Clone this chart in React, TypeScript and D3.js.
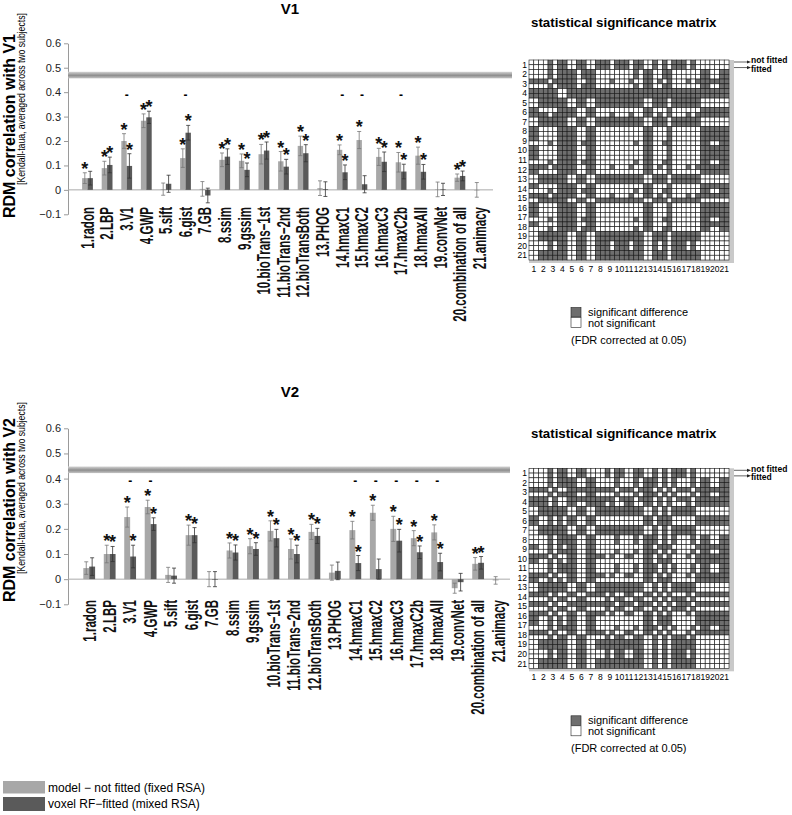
import React, { useEffect, useRef } from 'react';
import * as d3 from 'd3';

// model names (x categories)
const models = [
  "1.radon", "2.LBP", "3.V1", "4.GWP", "5.sift", "6.gist", "7.GB", "8.ssim", "9.gssim",
  "10.bioTrans\u22121st", "11.bioTrans\u22122nd", "12.bioTransBoth", "13.PHOG", "14.hmaxC1",
  "15.hmaxC2", "16.hmaxC3", "17.hmaxC2b", "18.hmaxAll", "19.convNet", "20.combination of all", "21.animacy"
];
const yTicks = [-0.1, 0, 0.1, 0.2, 0.3, 0.4, 0.5, 0.6];

// V1 panel
const v1Fixed = [0.048, 0.089, 0.200, 0.283, 0.003, 0.130, 0.004, 0.123, 0.119, 0.146, 0.117, 0.180, 0.007, 0.164, 0.204, 0.135, 0.113, 0.140, 0.002, 0.050, 0.000];
const v1Fitted = [0.048, 0.102, 0.098, 0.297, 0.025, 0.234, -0.023, 0.136, 0.082, 0.161, 0.095, 0.150, 0.003, 0.072, 0.023, 0.115, 0.075, 0.074, 0.002, 0.057, null];
const v1FixedErr = [0.022, 0.028, 0.030, 0.028, 0.025, 0.038, 0.030, 0.028, 0.028, 0.040, 0.040, 0.040, 0.030, 0.020, 0.035, 0.035, 0.040, 0.035, 0.030, 0.015, 0.030];
const v1FittedErr = [0.028, 0.032, 0.050, 0.025, 0.035, 0.030, 0.030, 0.032, 0.028, 0.035, 0.030, 0.035, 0.030, 0.030, 0.035, 0.040, 0.030, 0.030, 0.025, 0.020, 0];
const v1StarFixed = [1, 1, 1, 1, 0, 1, 0, 1, 1, 1, 1, 1, 0, 1, 1, 1, 1, 1, 0, 1, 0];
const v1StarFitted = [0, 1, 1, 1, 0, 1, 0, 1, 1, 1, 1, 1, 0, 1, 0, 1, 1, 1, 0, 1, 0];
const v1Dash = [0, 0, 1, 0, 0, 1, 0, 0, 0, 0, 0, 0, 0, 1, 1, 0, 1, 0, 0, 0, 0];
const v1Ceiling = 0.47;

// V2 panel
const v2Fixed = [0.044, 0.100, 0.247, 0.287, 0.017, 0.175, 0.000, 0.114, 0.131, 0.192, 0.120, 0.188, 0.026, 0.195, 0.264, 0.200, 0.163, 0.186, -0.036, 0.061, -0.005];
const v2Fitted = [0.050, 0.100, 0.090, 0.219, 0.014, 0.175, 0.000, 0.106, 0.120, 0.163, 0.100, 0.172, 0.033, 0.064, 0.040, 0.153, 0.107, 0.068, -0.012, 0.065, null];
const v2FixedErr = [0.025, 0.035, 0.040, 0.027, 0.030, 0.040, 0.030, 0.030, 0.030, 0.040, 0.040, 0.030, 0.030, 0.035, 0.030, 0.050, 0.030, 0.030, 0.020, 0.025, 0.015];
const v2FittedErr = [0.035, 0.030, 0.045, 0.025, 0.030, 0.030, 0.030, 0.030, 0.025, 0.035, 0.035, 0.030, 0.035, 0.030, 0.040, 0.045, 0.025, 0.035, 0.035, 0.025, 0];
const v2StarFixed = [0, 1, 1, 1, 0, 1, 0, 1, 1, 1, 1, 1, 0, 1, 1, 1, 1, 1, 0, 1, 0];
const v2StarFitted = [0, 1, 1, 1, 0, 1, 0, 1, 1, 1, 1, 1, 0, 1, 0, 1, 1, 1, 0, 1, 0];
const v2Dash = [0, 0, 1, 1, 0, 0, 0, 0, 0, 0, 0, 0, 0, 1, 1, 1, 1, 1, 0, 0, 0];
const v2Ceiling = 0.435;

// significance matrices: one hex digit per model pair (2x2 block:
// 8 = notfitted/notfitted, 4 = notfitted/fitted, 2 = fitted/notfitted, 1 = fitted/fitted)
const v1Matrix = [
  "00af0f0fafaf0aafaa000",
  "00aff5f0000af0f000f0f",
  "cc6ff1f04042f47044fcf",
  "fff0fffffffffffffffff",
  "0fff0f0fffff0fafff000",
  "f31ff0f01010f15011fff",
  "0fff0f0fffff0fafff000",
  "f00ff0f00000f05000fff",
  "c02ff1f00002f07000fcf",
  "f00ff0f00000f05000fff",
  "c02ff1f00002f07000fcf",
  "fc4ff0f04040f45044fff",
  "0fff0f0fffff0fafff000",
  "c02ff1f00002f07000fcf",
  "cf7fc3c37373c76377ccc",
  "f00ff0f00000f05000fff",
  "c02ff1f00002f07000fcf",
  "c02ff1f00002f07000fcf",
  "0fff0f0fffff0fafff000",
  "00af0f0fafaf0aafaa000",
  "0fff0f0fffff0fafff000",
];
const v2Matrix = [
  "00af0f00af0f0aafaa000",
  "00aff0f00a0afaaa0af0f",
  "cc63fcfcc6c6f666c6fcf",
  "ff50fcffd4f4f554d5fff",
  "0fff0f0fffff0aaffa000",
  "f0aaf0f00000f5f005fff",
  "0fff0f0fffff0aaffa000",
  "00aff0f00a0afaaa0af0f",
  "c0abf0f00202f6e206fcf",
  "fc62f0fc40c0f57045fff",
  "00aff0f00a0afaaa0af0f",
  "fc62f0fc40c0f57045fff",
  "0fff0f0fffff0aaffa000",
  "cc63c3cc63c3c66366ccc",
  "cc63cfcce7c7c667e6ccc",
  "fc62f0fc40c0f57045fff",
  "c0abf0f00202f6e206fcf",
  "cc63c3cc63c3c66366ccc",
  "0fff0f0fffff0aaffa000",
  "00af0f00af0f0aafaa000",
  "0fff0f0fffff0aaffa000",
];

const FONT = "'Liberation Sans', Arial, Helvetica, sans-serif";
const LIGHT = "#a8a8a8";
const DARK = "#5a5a5a";
const CELL_DARK = "#6e6e6e";

const fmtTick = (d) => (d === 0 ? "0" : d < 0 ? "\u2212" + Math.abs(d).toFixed(1) : d.toFixed(1));

const drawBars = (svg, p) => {
  const y = d3.scaleLinear().domain([-0.1, 0.6]).range([p.yBottom, p.yTop]);
  const x = d3.scalePoint().domain(models).range([p.c1, p.c21]);
  const g = svg.append("g").style("font-family", FONT);

  g.append("text")
    .attr("x", 290).attr("y", p.titleY)
    .attr("text-anchor", "middle")
    .attr("font-weight", "bold").attr("font-size", 15)
    .text(p.title);

  // y axis
  const axis = g.append("g")
    .attr("transform", "translate(68,0)")
    .call(d3.axisLeft(y).tickValues(yTicks).tickSize(4).tickSizeOuter(0).tickPadding(3).tickFormat(fmtTick));
  axis.select(".domain").attr("stroke", "#9a9a9a");
  axis.selectAll(".tick line").attr("stroke", "#9a9a9a");
  axis.selectAll("text").attr("font-size", 11).attr("fill", "#222").attr("font-family", FONT);

  // noise ceiling band
  g.append("rect")
    .attr("x", 68).attr("y", y(p.ceiling) - 3.3)
    .attr("width", p.ceilEnd - 68).attr("height", 6.6)
    .attr("fill", "url(#ceilGrad)");

  // zero line
  g.append("line")
    .attr("x1", 68).attr("x2", p.zeroEnd)
    .attr("y1", y(0)).attr("y2", y(0))
    .attr("stroke", "#aaa").attr("stroke-width", 1);

  const series = [
    { vals: p.fixed, errs: p.fixedErr, stars: p.starFixed, off: -p.barW, fill: LIGHT, errCol: "#777" },
    { vals: p.fitted, errs: p.fittedErr, stars: p.starFitted, off: 0, fill: DARK, errCol: "#333" },
  ];

  series.forEach((s) => {
    models.forEach((m, i) => {
      const v = s.vals[i];
      if (v === null || v === undefined) return;
      const bx = x(m) + s.off;
      const cx = bx + p.barW / 2;
      g.append("rect")
        .attr("x", bx).attr("width", p.barW)
        .attr("y", Math.min(y(v), y(0)))
        .attr("height", Math.max(0.6, Math.abs(y(v) - y(0))))
        .attr("fill", s.fill);
      const e = s.errs[i];
      g.append("line")
        .attr("x1", cx).attr("x2", cx)
        .attr("y1", y(v - e)).attr("y2", y(v + e))
        .attr("stroke", s.errCol).attr("stroke-width", 0.8);
      [v - e, v + e].forEach((t) => {
        g.append("line")
          .attr("x1", cx - 2).attr("x2", cx + 2)
          .attr("y1", y(t)).attr("y2", y(t))
          .attr("stroke", s.errCol).attr("stroke-width", 0.8);
      });
      if (s.stars[i]) {
        g.append("text")
          .attr("x", cx).attr("y", y(v + e) + 2)
          .attr("text-anchor", "middle")
          .attr("font-weight", "bold").attr("font-size", 18)
          .attr("fill", "#111")
          .text("*");
      }
    });
  });

  // nf vs fitted difference marks
  models.forEach((m, i) => {
    if (!p.dash[i]) return;
    g.append("text")
      .attr("x", x(m)).attr("y", y(0.387) + 3.5)
      .attr("text-anchor", "middle")
      .attr("font-weight", "bold").attr("font-size", 12)
      .text("-");
  });

  // category labels
  models.forEach((m) => {
    g.append("text")
      .attr("transform", `translate(${x(m)},${p.labelTop}) rotate(-90) scale(0.66,1)`)
      .attr("text-anchor", "end")
      .attr("dy", "0.36em")
      .attr("font-weight", "bold").attr("font-size", 17.5)
      .attr("fill", "#111")
      .text(m);
  });

  // y titles
  g.append("text")
    .attr("transform", `translate(15,${p.yTitleY}) rotate(-90)`)
    .attr("text-anchor", "middle")
    .attr("font-weight", "bold").attr("font-size", 16)
    .text(p.yTitle);
  g.append("text")
    .attr("transform", `translate(25,${p.subY}) rotate(-90) scale(0.8,1)`)
    .attr("text-anchor", "middle")
    .attr("font-size", 10.8)
    .text("[Kendall-taua, averaged across two subjects]");
};

const drawMatrix = (svg, blocks, top, titleY) => {
  const left = 529;
  const size = 200;
  const idx = d3.range(42);
  const band = d3.scaleBand().domain(idx).range([0, size]);
  const modelBand = d3.scaleBand().domain(d3.range(21)).range([0, size]);
  const g = svg.append("g").style("font-family", FONT);

  g.append("text")
    .attr("x", 531).attr("y", titleY)
    .attr("font-weight", "bold").attr("font-size", 13.3)
    .text("statistical significance matrix");

  // shadow panel
  g.append("rect")
    .attr("x", left).attr("y", top)
    .attr("width", size + 5).attr("height", size + 3)
    .attr("fill", "#c9c9c9");

  const cells = g.append("g").attr("transform", `translate(${left},${top})`);
  blocks.forEach((row, a) => {
    row.split("").forEach((ch, b) => {
      const code = parseInt(ch, 16);
      [[0, 0, 8], [0, 1, 4], [1, 0, 2], [1, 1, 1]].forEach(([dr, dc, bit]) => {
        cells.append("rect")
          .attr("x", band(2 * b + dc)).attr("y", band(2 * a + dr))
          .attr("width", band.bandwidth()).attr("height", band.bandwidth())
          .attr("fill", code & bit ? CELL_DARK : "#fff")
          .attr("stroke", "#1a1a1a").attr("stroke-width", 0.6);
      });
    });
  });

  // row / column labels
  d3.range(21).forEach((k) => {
    g.append("text")
      .attr("x", left - 2).attr("y", top + modelBand(k) + modelBand.bandwidth() / 2 + 3)
      .attr("text-anchor", "end").attr("font-size", 8.5)
      .text(k + 1);
    g.append("text")
      .attr("x", left + modelBand(k) + modelBand.bandwidth() / 2)
      .attr("y", top + size + 12)
      .attr("text-anchor", "middle").attr("font-size", 8.5)
      .text(k + 1);
  });

  // not fitted / fitted pointers
  [["not fitted", band(0) + 2, 3.2], ["fitted", band(1) + 2.8, 12]].forEach(([label, ly, ty]) => {
    const yy = top + ly;
    g.append("line")
      .attr("x1", left + size + 5).attr("x2", left + size + 19)
      .attr("y1", yy).attr("y2", yy)
      .attr("stroke", "#222").attr("stroke-width", 0.7);
    g.append("path")
      .attr("d", `M${left + size + 22},${yy} l-4,-1.6 l0,3.2 z`)
      .attr("fill", "#222");
    g.append("text")
      .attr("x", left + size + 22).attr("y", top + ty)
      .attr("font-weight", "bold").attr("font-size", 8.5)
      .text(label);
  });

  // legend
  const ly = top + 247.5;
  g.append("rect").attr("x", 571).attr("y", ly).attr("width", 10).attr("height", 9.5)
    .attr("fill", CELL_DARK).attr("stroke", "#222").attr("stroke-width", 0.6);
  g.append("rect").attr("x", 571).attr("y", ly + 10).attr("width", 10).attr("height", 10)
    .attr("fill", "#fff").attr("stroke", "#222").attr("stroke-width", 0.6);
  g.append("text").attr("x", 588).attr("y", ly + 8.5).attr("font-size", 11).text("significant difference");
  g.append("text").attr("x", 588).attr("y", ly + 19).attr("font-size", 11).text("not significant");
  g.append("text").attr("x", 571).attr("y", ly + 36).attr("font-size", 11).text("(FDR corrected at 0.05)");
};

const App = () => {
  const ref = useRef(null);

  useEffect(() => {
    const svg = d3.select(ref.current);
    svg.selectAll("*").remove();

    const grad = svg.append("defs").append("linearGradient")
      .attr("id", "ceilGrad").attr("x1", 0).attr("x2", 0).attr("y1", 0).attr("y2", 1);
    grad.append("stop").attr("offset", "0%").attr("stop-color", "#d4d4d4");
    grad.append("stop").attr("offset", "55%").attr("stop-color", "#8e8e8e");
    grad.append("stop").attr("offset", "100%").attr("stop-color", "#c4c4c4");

    drawBars(svg, {
      fixed: v1Fixed, fitted: v1Fitted, fixedErr: v1FixedErr, fittedErr: v1FittedErr,
      starFixed: v1StarFixed, starFitted: v1StarFitted, dash: v1Dash, ceiling: v1Ceiling,
      yTop: 43.3, yBottom: 214.3, c1: 87.5, c21: 479.5, barW: 5.4,
      zeroEnd: 493, ceilEnd: 512, labelTop: 207, title: "V1", titleY: 14,
      yTitle: "RDM correlation with V1", yTitleY: 126, subY: 99,
    });
    drawBars(svg, {
      fixed: v2Fixed, fitted: v2Fitted, fixedErr: v2FixedErr, fittedErr: v2FittedErr,
      starFixed: v2StarFixed, starFitted: v2StarFitted, dash: v2Dash, ceiling: v2Ceiling,
      yTop: 428.3, yBottom: 604.3, c1: 89.2, c21: 498.6, barW: 5.9,
      zeroEnd: 510, ceilEnd: 510, labelTop: 600, title: "V2", titleY: 397,
      yTitle: "RDM correlation with V2", yTitleY: 510, subY: 488,
    });

    drawMatrix(svg, v1Matrix, 60, 27);
    drawMatrix(svg, v2Matrix, 468.3, 438);

    // bottom legend
    const leg = svg.append("g").style("font-family", FONT);
    leg.append("rect").attr("x", 3).attr("y", 781).attr("width", 42).attr("height", 12.5).attr("fill", LIGHT);
    leg.append("rect").attr("x", 3).attr("y", 797).attr("width", 42).attr("height", 14).attr("fill", DARK);
    leg.append("text").attr("x", 48).attr("y", 791.5).attr("font-size", 12).text("model \u2212 not fitted (fixed RSA)");
    leg.append("text").attr("x", 48).attr("y", 808).attr("font-size", 12).text("voxel RF\u2212fitted (mixed RSA)");
  }, []);

  return (
    <svg
      ref={ref}
      width={792}
      height={815}
      style={{ position: "absolute", left: 0, top: 0, background: "#fff" }}
    />
  );
};

export default App;
